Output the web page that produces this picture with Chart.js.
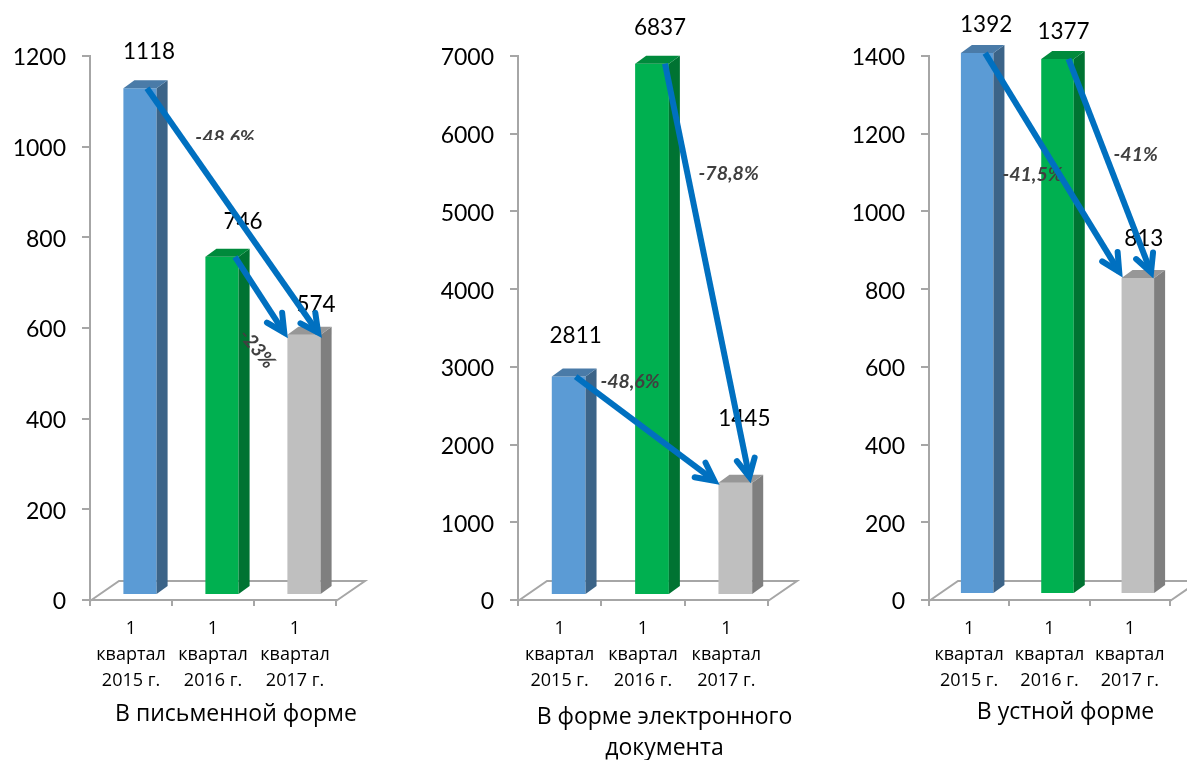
<!DOCTYPE html>
<html><head><meta charset="utf-8">
<style>html,body{margin:0;padding:0;background:#fff;width:1187px;height:760px;overflow:hidden}canvas{position:absolute;top:0}</style>
<script src="https://cdn.jsdelivr.net/npm/chart.js@4/dist/chart.umd.min.js"></script>
</head><body>
<canvas id="c1" width="400" height="760" style="left:0"></canvas>
<canvas id="c2" width="410" height="760" style="left:420px"></canvas>
<canvas id="c3" width="357" height="760" style="left:830px"></canvas>
<script>
const categories = [['1','квартал','2015 г.'],['1','квартал','2016 г.'],['1','квартал','2017 г.']];
const writtenValues = [1118,746,574];
const electronicValues = [2811,6837,1445];
const oralValues = [1392,1377,813];
const frontColors = ['#5B9BD5','#00B050','#BFBFBF'];
const sideColors = ['#3C6488','#007332','#7F7F7F'];
const topColors = ['#4A7BA8','#008A3C','#979797'];
const AXIS = '#A6A6A6', ARROW = '#0070C0';
const FONT = 'Lato, "Open Sans", sans-serif';
const TEXT_FONT = '"Open Sans", sans-serif';
const DEPTH_X = 11, DEPTH_Y = 8;

const panels = [
 {id:'c1', values:writtenValues, max:1200, step:200, axisX:90, plotW:246, left:0, shiftX:9, shiftY:-5,
  caption:['В письменной форме'], captionX:236, captionY:[714],
  labelOffsets:[[9,-36],[21,-35],[12,-30]],
  arrows:[{from:0,to:2,sx:7,ex:17,ey:2,text:'-48.6%',dx:-9,dy:-75,clipBelow:140},
          {from:1,to:2,sx:13,ex:-17,ey:2,text:'-23%',dx:-4,dy:52,rot:50}]},
 {id:'c2', values:electronicValues, max:7000, step:1000, axisX:518, plotW:250, left:420, shiftX:9, shiftY:-5,
  caption:['В форме электронного','документа'], captionX:664.5, captionY:[717,748],
  labelOffsets:[[7,-41],[8,-36],[9,-64]],
  arrows:[{from:0,to:2,sx:7,ex:-17,ey:1,text:'-48,6%',dx:-17,dy:-48},
          {from:1,to:2,sx:13,ex:15,ey:-1,text:'-78,8%',dx:21,dy:-99}]},
 {id:'c3', values:oralValues, max:1400, step:200, axisX:929, plotW:241, left:830, shiftX:8, shiftY:-6,
  caption:['В устной форме'], captionX:1065.5, captionY:[712],
  labelOffsets:[[9,-28],[6,-27],[6,-39]],
  arrows:[{from:0,to:2,sx:8,ex:-16,ey:-2,text:'-41,5%',dx:-21,dy:10},
          {from:1,to:2,sx:11,ex:15,ey:-1,text:'-41%',dx:25,dy:-13}]}
];

function poly(ctx,pts,fill){ctx.beginPath();pts.forEach((p,i)=>i?ctx.lineTo(p[0],p[1]):ctx.moveTo(p[0],p[1]));ctx.closePath();ctx.fillStyle=fill;ctx.fill();}

const chart3d = {
 id:'chart3d',
 beforeDatasetsDraw(chart,args,opts){
  const {ctx,chartArea:a}=chart;const dx=29,dy=20;const b=a.bottom+1;
  ctx.save();ctx.strokeStyle=AXIS;ctx.lineWidth=2;
  ctx.beginPath();ctx.moveTo(a.left,b);ctx.lineTo(a.left+dx,b-dy);ctx.lineTo(a.right+dx,b-dy);ctx.lineTo(a.right,b);ctx.stroke();
  ctx.restore();
  ctx.save();ctx.translate(opts.panel.shiftX,opts.panel.shiftY);
 },
 afterDatasetsDraw(chart,args,opts){
  const {ctx}=chart;const meta=chart.getDatasetMeta(0);
  meta.data.forEach((el,i)=>{
   const h=el.width/2,L=el.x-h,R=el.x+h,T=el.y,B=el.base;
   poly(ctx,[[R,T],[R+DEPTH_X,T-DEPTH_Y],[R+DEPTH_X,B-DEPTH_Y],[R,B]],sideColors[i]);
   poly(ctx,[[L,T],[L+DEPTH_X,T-DEPTH_Y],[R+DEPTH_X,T-DEPTH_Y],[R,T]],topColors[i]);
  });
  ctx.restore();
  const p=opts.panel;const at=i=>({x:meta.data[i].x+p.shiftX,y:meta.data[i].y+p.shiftY});
  ctx.save();ctx.fillStyle='#000';ctx.font='22.5px '+FONT;ctx.textAlign='center';ctx.textBaseline='middle';
  p.values.forEach((v,i)=>{const a=at(i);ctx.fillText(String(v),a.x+p.labelOffsets[i][0],a.y+p.labelOffsets[i][1]);});
  ctx.restore();
  const ends=p.arrows.map(r=>{const s=at(r.from),e=at(r.to);return {r,x0:s.x+r.sx,y0:s.y,x1:e.x+r.ex,y1:e.y+r.ey};});
  ends.forEach(({r,x0,y0,x1,y1})=>{
   const mx=(x0+x1)/2,my=(y0+y1)/2;
   ctx.save();
   if(r.clipBelow){ctx.beginPath();ctx.rect(0,0,chart.width,r.clipBelow);ctx.clip();}
   ctx.translate(mx+r.dx,my+r.dy);if(r.rot)ctx.rotate(r.rot*Math.PI/180);
   ctx.fillStyle='#404040';ctx.font='italic 700 19.5px '+FONT;ctx.textAlign='center';ctx.textBaseline='middle';
   ctx.fillText(r.text,0,0);ctx.restore();
  });
  ends.forEach(({x0,y0,x1,y1})=>{
   const ang=Math.atan2(y1-y0,x1-x0),len=20,sp=0.47,inset=5;
   const vx=x1-inset*Math.cos(ang),vy=y1-inset*Math.sin(ang);
   ctx.save();ctx.strokeStyle=ARROW;ctx.lineWidth=6;ctx.lineCap='butt';
   ctx.beginPath();ctx.moveTo(x0,y0);ctx.lineTo(vx,vy);ctx.stroke();
   ctx.lineCap='round';ctx.lineJoin='miter';
   ctx.beginPath();
   ctx.moveTo(vx-len*Math.cos(ang-sp),vy-len*Math.sin(ang-sp));
   ctx.lineTo(vx,vy);
   ctx.lineTo(vx-len*Math.cos(ang+sp),vy-len*Math.sin(ang+sp));
   ctx.stroke();ctx.restore();
  });
  ctx.save();ctx.fillStyle='#000';ctx.font='23px '+TEXT_FONT;ctx.textAlign='center';ctx.textBaseline='middle';
  p.caption.forEach((t,i)=>ctx.fillText(t,p.captionX-p.left,p.captionY[i]));
  ctx.restore();
 }
};

panels.forEach(p=>{
 new Chart(document.getElementById(p.id),{
  type:'bar',
  data:{labels:categories,datasets:[{data:p.values,backgroundColor:frontColors,borderWidth:0,barPercentage:0.405,categoryPercentage:1}]},
  plugins:[chart3d],
  options:{
   responsive:false,animation:false,
   layout:{padding:{top:56,bottom:0,left:0,right:document.getElementById(p.id).width-(p.axisX-p.left)-p.plotW}},
   plugins:{legend:{display:false},tooltip:{enabled:false},title:{display:false},chart3d:{panel:p}},
   scales:{
    y:{min:0,max:p.max,ticks:{stepSize:p.step,padding:16,labelOffset:2,color:'#000',font:{family:FONT,size:23},callback:v=>String(v)},
       grid:{drawOnChartArea:false,tickLength:8,color:AXIS,lineWidth:2},border:{color:AXIS,width:2},
       afterFit(s){s.width=p.axisX-p.left;}},
    x:{ticks:{padding:10,color:'#000',maxRotation:0,autoSkip:false,font:{family:TEXT_FONT,size:18,lineHeight:1.45}},
       grid:{drawOnChartArea:false,tickLength:6,color:AXIS,lineWidth:2},border:{color:AXIS,width:2},
       afterFit(s){s.height=760-600;}}
   }
  }
 });
});
</script>
</body></html>
